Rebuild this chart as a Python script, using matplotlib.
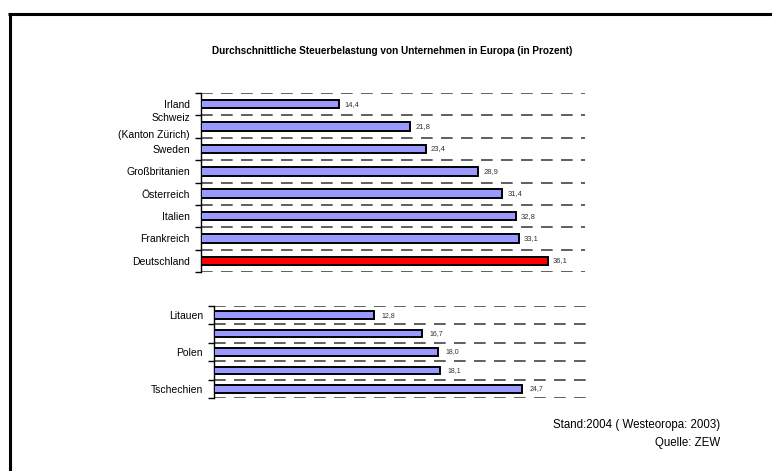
import matplotlib
matplotlib.use('Agg')
import matplotlib.pyplot as plt
import matplotlib.transforms as mtransforms
from matplotlib.lines import Line2D
import numpy as np

plt.rcParams['font.family'] = ['Liberation Sans', 'DejaVu Sans']

# Westeuropa
west_labels = ['Irland', 'Schweiz\n(Kanton Zürich)', 'Sweden', 'Großbritanien',
               'Österreich', 'Italien', 'Frankreich', 'Deutschland']
west_values = [14.4, 21.8, 23.4, 28.9, 31.4, 32.8, 33.1, 36.1]

# Osteuropa
east_labels = ['Litauen', '', 'Polen', '', 'Tschechien']
east_values = [12.8, 16.7, 18.0, 18.1, 24.7]

title = 'Durchschnittliche Steuerbelastung von Unternehmen in Europa (in Prozent)'
note1 = 'Stand:2004 ( Westeoropa: 2003)'
note2 = 'Quelle: ZEW'

W, H = 772, 471
blue = '#9999ff'
red = '#ff0000'
grid_color = '#444444'


def px_axes(fig, left, top, right, bottom):
    return fig.add_axes([left / W, 1 - bottom / H, (right - left) / W, (bottom - top) / H])


def draw_bars(ax, labels, values, xmax, bar_h, val_size, colors, val_off):
    n = len(values)
    y = np.arange(n)
    ax.barh(y, values, height=bar_h, color=colors, edgecolor='black', linewidth=1.4, zorder=3)
    for yi, v in zip(y, values):
        ax.text(v + val_off, yi, f'{v:.1f}'.replace('.', ','), fontsize=val_size,
                va='center', ha='left', color='#333333')
    bounds = np.arange(n + 1) - 0.5
    ax.hlines(bounds, 0, xmax, colors=grid_color, linestyles=(0, (7, 5)), linewidth=1.2, zorder=1)
    ax.set_xlim(0, xmax)
    ax.set_ylim(n - 0.5, -0.5)
    ax.set_yticks(y)
    ax.set_yticklabels(labels, fontsize=7.5, linespacing=1.9)
    ax.set_yticks(bounds, minor=True)
    ax.tick_params(axis='y', which='major', length=0, pad=8)
    ax.tick_params(axis='y', which='minor', length=4, width=1, color='black')
    ax.set_xticks([])
    for s in ['top', 'right', 'bottom']:
        ax.spines[s].set_visible(False)
    ax.spines['left'].set_linewidth(1.0)
    ax.set_facecolor('none')


fig = plt.figure(figsize=(W / 100, H / 100), dpi=100)

ax1 = px_axes(fig, 201, 93, 585, 272)
cols1 = [blue] * (len(west_values) - 1) + [red]
draw_bars(ax1, west_labels, west_values, 40, 0.38, 5.5, cols1, 0.5)

# zweizeiliges Label etwas nach oben schieben
lab = ax1.get_yticklabels()[1]
lab.set_transform(lab.get_transform() + mtransforms.ScaledTranslation(0, 5 / 100, fig.dpi_scale_trans))

ax2 = px_axes(fig, 214, 306, 588, 398)
draw_bars(ax2, east_labels, east_values, 30, 0.42, 5.0, [blue] * len(east_values), 0.6)

fig.text(392 / W, 1 - 51 / H, title, ha='center', va='center', fontsize=7.2, fontweight='bold')
fig.text(720 / W, 1 - 425 / H, note1, ha='right', va='center', fontsize=8.3)
fig.text(720 / W, 1 - 443 / H, note2, ha='right', va='center', fontsize=8.3)

# Rahmen oben/links
fig.add_artist(Line2D([9.5 / W, 9.5 / W], [0, 1 - 14 / H], color='black', linewidth=2.2,
                      transform=fig.transFigure, solid_capstyle='butt'))
fig.add_artist(Line2D([8 / W, 1], [1 - 14 / H, 1 - 14 / H], color='black', linewidth=2.2,
                      transform=fig.transFigure, solid_capstyle='butt'))

fig.savefig('out.png', dpi=100)
